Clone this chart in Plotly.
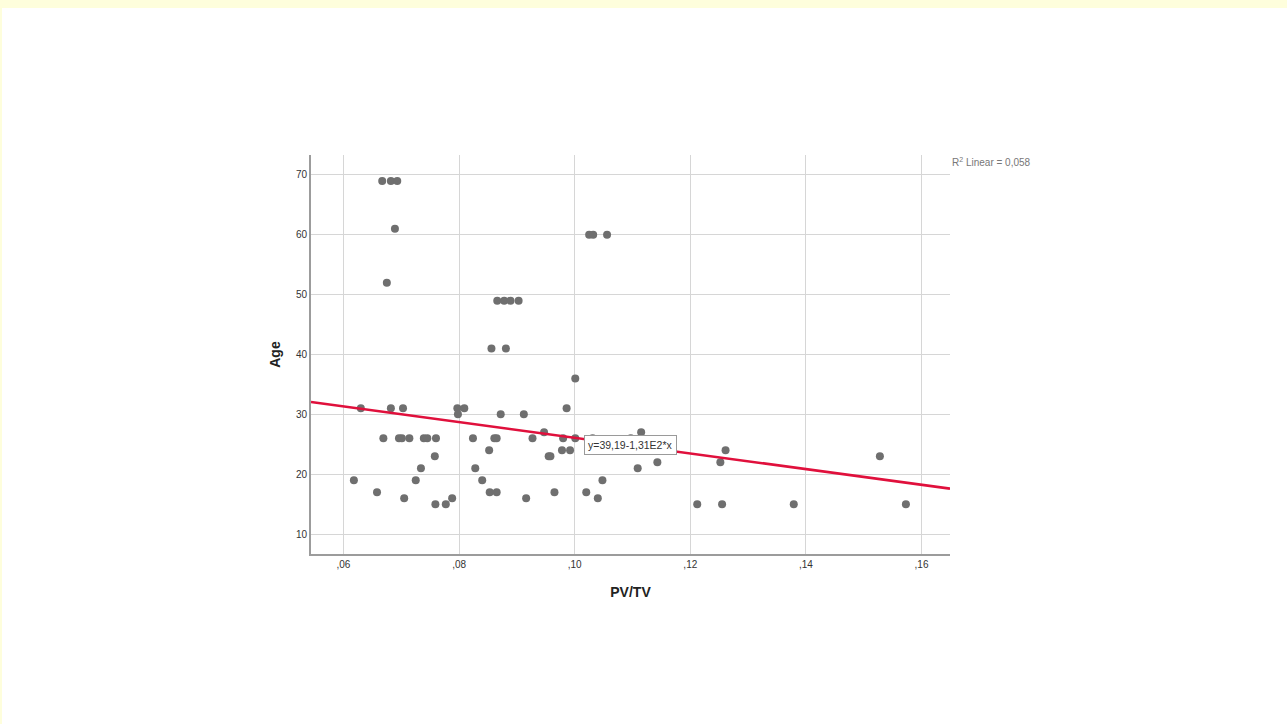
import plotly.graph_objects as go

# ---- data ----
pv_tv = [
    0.0667, 0.0682, 0.0693, 0.0689, 0.0675,
    0.0866, 0.0878, 0.0889, 0.0903, 0.0856, 0.0881,
    0.1025, 0.1032, 0.1056, 0.1001,
    0.0630, 0.0682, 0.0703, 0.0797, 0.0809, 0.0986,
    0.0798, 0.0872, 0.0912,
    0.0947, 0.1115,
    0.0669, 0.0696, 0.0701, 0.0714, 0.0739, 0.0745, 0.0760, 0.0824,
    0.0861, 0.0865, 0.0927, 0.0980, 0.1001, 0.1031, 0.1097,
    0.0852, 0.0978, 0.0992, 0.1261,
    0.0758, 0.0955, 0.0958, 0.1528,
    0.1143, 0.1252,
    0.0734, 0.0828, 0.1109,
    0.0618, 0.0725, 0.0840, 0.1048,
    0.0658, 0.0853, 0.0865, 0.0965, 0.1020,
    0.0705, 0.0788, 0.0916, 0.1040,
    0.0759, 0.0777, 0.1212, 0.1255, 0.1379, 0.1573,
]
age = [
    69, 69, 69, 61, 52,
    49, 49, 49, 49, 41, 41,
    60, 60, 60, 36,
    31, 31, 31, 31, 31, 31,
    30, 30, 30,
    27, 27,
    26, 26, 26, 26, 26, 26, 26, 26,
    26, 26, 26, 26, 26, 26, 26,
    24, 24, 24, 24,
    23, 23, 23, 23,
    22, 22,
    21, 21, 21,
    19, 19, 19, 19,
    17, 17, 17, 17, 17,
    16, 16, 16, 16,
    15, 15, 15, 15, 15, 15,
]

intercept = 39.19
slope = -131.0
r_squared_label = "0,058"
equation_label = "y=39,19-1,31E2*x"

x_tick_vals = [0.06, 0.08, 0.10, 0.12, 0.14, 0.16]
x_tick_text = [",06", ",08", ",10", ",12", ",14", ",16"]
y_tick_vals = [10, 20, 30, 40, 50, 60, 70]
y_tick_text = ["10", "20", "30", "40", "50", "60", "70"]

# ---- layout constants ----
X_RANGE = [0.05438, 0.16493]
Y_RANGE = [6.67, 73.33]
FONT = "Liberation Sans, Arial, sans-serif"

fig = go.Figure()

fig.add_trace(go.Scatter(
    x=pv_tv, y=age, mode="markers",
    marker=dict(color="#6f6f6f", size=8, line=dict(width=0)),
    hoverinfo="skip", showlegend=False,
))

fit_x = list(X_RANGE)
fit_y = [intercept + slope * v for v in fit_x]
fig.add_trace(go.Scatter(
    x=fit_x, y=fit_y, mode="lines",
    line=dict(color="#e0103c", width=2.6),
    hoverinfo="skip", showlegend=False,
))

# page background: pale yellow frame at top and left edge
W, H = 1287, 724
L, R, T, B = 311, 337, 155, 170
pw, ph = W - L - R, H - T - B
def px_x(p):
    return (p - L) / pw
def px_y(p):
    return (H - B - p) / ph

fig.add_shape(type="rect", xref="paper", yref="paper",
              x0=px_x(2), x1=px_x(W + 5), y0=px_y(H + 5), y1=px_y(8),
              fillcolor="white", line=dict(width=0), layer="below")

fig.add_annotation(
    x=0.1097, y=24.8, xref="x", yref="y",
    text=equation_label, showarrow=False,
    font=dict(family=FONT, size=10.5, color="#333333"),
    bgcolor="white", bordercolor="#9a9a9a", borderwidth=1, borderpad=3,
    xanchor="center", yanchor="middle",
)

fig.add_annotation(
    x=1.0, y=px_y(162), xref="paper", yref="paper",
    text="R<sup>2</sup> Linear = " + r_squared_label, showarrow=False,
    font=dict(family=FONT, size=10, color="#777777"),
    xanchor="left", yanchor="middle",
)

fig.update_layout(
    width=W, height=H,
    margin=dict(l=L, r=R, t=T, b=B, pad=0),
    paper_bgcolor="#fefedc",
    plot_bgcolor="white",
    font=dict(family=FONT, color="#333333"),
    showlegend=False,
)

fig.update_xaxes(
    range=X_RANGE, tickvals=x_tick_vals, ticktext=x_tick_text,
    showgrid=True, gridcolor="#d6d6d6", gridwidth=1,
    showline=True, linecolor="#9c9c9c", linewidth=2,
    zeroline=False, ticks="", ticklen=0,
    tickfont=dict(family=FONT, size=10, color="#333333"),
    title=dict(text="<b>PV/TV</b>", font=dict(family=FONT, size=14, color="#222222"), standoff=18),
)
fig.update_yaxes(
    range=Y_RANGE, tickvals=y_tick_vals, ticktext=y_tick_text,
    showgrid=True, gridcolor="#d6d6d6", gridwidth=1,
    showline=True, linecolor="#9c9c9c", linewidth=2,
    zeroline=False, ticks="", ticklen=0,
    tickfont=dict(family=FONT, size=10, color="#333333"),
    title=dict(text="<b>Age</b>", font=dict(family=FONT, size=14, color="#222222"), standoff=12),
)

fig.write_html(
    "out.html",
    config={"displayModeBar": False, "staticPlot": True},
    post_script="document.body.style.margin='0';document.body.style.overflow='hidden';",
)
